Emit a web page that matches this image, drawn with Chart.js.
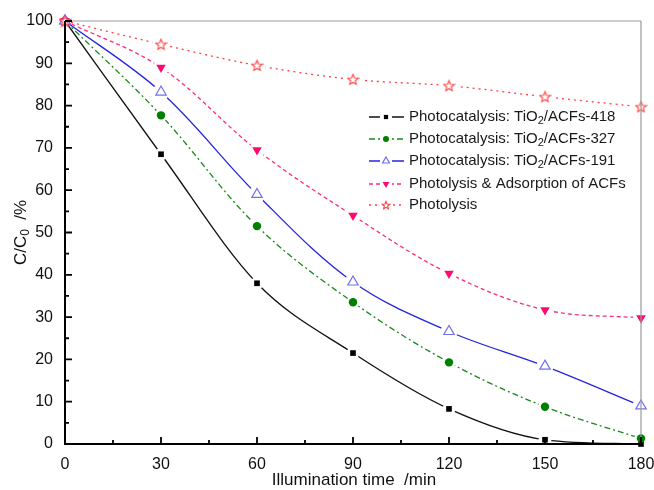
<!DOCTYPE html>
<html>
<head>
<meta charset="utf-8">
<script src="https://cdn.jsdelivr.net/npm/chart.js@4.4.0/dist/chart.umd.min.js"></script>
<style>
  html, body { margin: 0; padding: 0; background: #fff; }
  #wrap { width: 654px; height: 490px; position: relative; }
</style>
</head>
<body>
<div id="wrap"><canvas id="chart"></canvas></div>
<script>
// ===== DATA =====
const times = [0, 30, 60, 90, 120, 150, 180];
const seriesLabels = [
  "Photocatalysis: TiO₂/ACFs-418",
  "Photocatalysis: TiO₂/ACFs-327",
  "Photocatalysis: TiO₂/ACFs-191",
  "Photolysis & Adsorption of ACFs",
  "Photolysis"
];
const acf418   = [100, 68.5, 38.0, 21.5, 8.3, 1.0, 0.0];
const acf327   = [100, 77.7, 51.5, 33.5, 19.3, 8.8, 1.3];
const acf191   = [100, 83.2, 59.0, 38.3, 26.6, 18.4, 9.0];
const adsorb   = [100, 89.0, 69.5, 54.0, 40.3, 31.7, 29.8];
const photo    = [100, 94.5, 89.5, 86.2, 84.7, 82.1, 79.7];
const xTicks = [0, 30, 60, 90, 120, 150, 180];
const yTicks = [0, 10, 20, 30, 40, 50, 60, 70, 80, 90, 100];

const FONT = "'Liberation Sans', Arial, sans-serif";

// hollow star marker (Chart.js "star" is an asterisk)
function makeStar(size, color) {
  const c = document.createElement("canvas");
  c.width = size; c.height = size;
  const g = c.getContext("2d");
  const cx = size / 2, cy = size / 2 + 0.5, R = size / 2 - 1, r = R * 0.45;
  g.beginPath();
  for (let i = 0; i < 10; i++) {
    const a = -Math.PI / 2 + i * Math.PI / 5;
    const rr = i % 2 === 0 ? R : r;
    g.lineTo(cx + rr * Math.cos(a), cy + rr * Math.sin(a));
  }
  g.closePath();
  g.fillStyle = "#fff";
  g.fill();
  g.strokeStyle = color;
  g.lineWidth = 1.1;
  g.stroke();
  return c;
}
const starBig = makeStar(13, "#ff4040");
const starSmall = makeStar(10, "#ff4040");

function pts(arr) { return arr.map((v, i) => ({ x: times[i], y: v })); }

const datasets = [
  {
    label: seriesLabels[0], data: pts(acf418), order: 4,
    borderColor: "#111", backgroundColor: "#000", borderWidth: 1.3,
    pointStyle: "rect", pointRadius: 4, pointBorderWidth: 0, pointBackgroundColor: "#000",
    borderDash: [], legendRadius: 3, cubicInterpolationMode: "monotone"
  },
  {
    label: seriesLabels[1], data: pts(acf327), order: 3,
    borderColor: "#1a8a1a", backgroundColor: "#008000", borderWidth: 1.3,
    pointStyle: "circle", pointRadius: 4.2, pointBorderWidth: 0, pointBackgroundColor: "#008000",
    borderDash: [6, 3, 2, 3], legendRadius: 3
  },
  {
    label: seriesLabels[2], data: pts(acf191), order: 2,
    borderColor: "#2424e0", backgroundColor: "#fff", borderWidth: 1.3,
    pointStyle: "triangle", pointRadius: 6, pointBorderWidth: 1.2,
    pointBorderColor: "#7070f0", pointBackgroundColor: "#fff",
    borderDash: [], legendRadius: 4
  },
  {
    label: seriesLabels[3], data: pts(adsorb), order: 1,
    borderColor: "#ff2a80", backgroundColor: "#ff0a70", borderWidth: 1.3,
    pointStyle: "triangle", pointRotation: 180, pointRadius: 5.5, pointBorderWidth: 0,
    pointBackgroundColor: "#ff0a70",
    borderDash: [4, 3], legendRadius: 4
  },
  {
    label: seriesLabels[4], data: pts(photo), order: 0,
    borderColor: "#ff4040", backgroundColor: "#fff", borderWidth: 1.3,
    pointStyle: starBig, pointRadius: 6.5,
    borderDash: [2, 4], legendStar: starSmall
  }
];
datasets.forEach(d => {
  d.tension = 0.35;
  d.fill = false;
  d.clip = 8;
});

// draw text where "₂"/"₀" become a small lowered digit
function drawSubText(ctx, text, x, y, size, align) {
  const parts = text.split(/([₀₂])/);
  const big = size + "px " + FONT, small = Math.round(size * 0.72) + "px " + FONT;
  const widthOf = p => {
    ctx.font = /[₀₂]/.test(p) ? small : big;
    return ctx.measureText(/[₀₂]/.test(p) ? (p === "₀" ? "0" : "2") : p).width;
  };
  let total = 0;
  parts.forEach(p => { total += widthOf(p); });
  let cx = align === "center" ? x - total / 2 : x;
  ctx.textAlign = "left";
  parts.forEach(p => {
    const sub = /[₀₂]/.test(p);
    const t = sub ? (p === "₀" ? "0" : "2") : p;
    ctx.font = sub ? small : big;
    ctx.fillText(t, cx, sub ? y + size * 0.28 : y);
    cx += ctx.measureText(t).width;
  });
}

// white gaps around markers, as the original plotting program does
const gapPlugin = {
  id: "gaps",
  afterDatasetsDraw(chart) {
    const ctx = chart.ctx;
    const metas = chart.getSortedVisibleDatasetMetas().slice().reverse();
    ctx.save();
    ctx.fillStyle = "#fff";
    metas.forEach(meta => {
      meta.data.forEach((pt, i) => {
        if (i === 0) return;
        ctx.beginPath();
        ctx.arc(pt.x, pt.y, pt.options.radius + 2.5, 0, Math.PI * 2);
        ctx.fill();
      });
    });
    metas.forEach(meta => {
      meta.data.forEach(pt => pt.draw(ctx, chart.chartArea));
    });
    ctx.restore();
  }
};

// ===== AXES FRAME, INWARD TICKS, LEGEND, TITLES =====
const framePlugin = {
  id: "frame",
  afterDraw(chart) {
    const { ctx, chartArea: a, scales: { x, y } } = chart;
    ctx.save();
    ctx.setLineDash([]);
    ctx.strokeStyle = "#9a9a9a";
    ctx.lineWidth = 1.2;
    ctx.beginPath();
    ctx.moveTo(a.left, a.top); ctx.lineTo(a.right, a.top);
    ctx.moveTo(a.right, a.top); ctx.lineTo(a.right, a.bottom);
    ctx.stroke();
    ctx.strokeStyle = "#000";
    ctx.lineWidth = 2;
    ctx.beginPath();
    ctx.moveTo(a.left, a.top); ctx.lineTo(a.left, a.bottom + 1);
    ctx.moveTo(a.left - 1, a.bottom); ctx.lineTo(a.right, a.bottom);
    ctx.stroke();
    ctx.lineWidth = 1.8;
    ctx.beginPath();
    for (let v = 0; v <= 100; v += 5) {
      const py = y.getPixelForValue(v);
      const len = v % 10 === 0 ? 7 : 4;
      ctx.moveTo(a.left, py); ctx.lineTo(a.left + len, py);
    }
    for (let v = 0; v <= 180; v += 15) {
      const px = x.getPixelForValue(v);
      const len = v % 30 === 0 ? 7 : 4;
      ctx.moveTo(px, a.bottom); ctx.lineTo(px, a.bottom - len);
    }
    ctx.stroke();

    // axis titles
    ctx.fillStyle = "#111";
    ctx.textBaseline = "middle";
    ctx.font = "17px " + FONT;
    ctx.textAlign = "center";
    ctx.fillText("Illumination time  /min", (a.left + a.right) / 2 + 1, 480);
    ctx.save();
    ctx.translate(21, (a.top + a.bottom) / 2);
    ctx.rotate(-Math.PI / 2);
    drawSubText(ctx, "C/C₀  /%", 0, 0, 17, "center");
    ctx.restore();

    // legend
    const rows = [117, 139, 161, 184, 205];
    ctx.textBaseline = "middle";
    chart.data.datasets.forEach((d, i) => {
      const ry = rows[i];
      ctx.strokeStyle = d.borderColor;
      ctx.lineWidth = d.borderWidth;
      ctx.setLineDash(d.borderDash);
      ctx.beginPath();
      ctx.moveTo(369, ry); ctx.lineTo(404, ry);
      ctx.stroke();
      ctx.setLineDash([]);
      ctx.fillStyle = "#fff";
      ctx.fillRect(380, ry - 6, 12, 12);
      if (d.legendStar) {
        ctx.drawImage(d.legendStar, 386 - 5, ry - 5);
      } else {
        ctx.fillStyle = d.pointBackgroundColor;
        ctx.strokeStyle = d.pointBorderColor || d.pointBackgroundColor;
        ctx.lineWidth = d.pointBorderWidth || 0;
        Chart.helpers.drawPoint(ctx, {
          pointStyle: d.pointStyle,
          radius: d.legendRadius,
          rotation: d.pointRotation || 0,
          borderWidth: d.pointBorderWidth || 0
        }, 386, ry);
      }
      ctx.fillStyle = "#1a1a1a";
      drawSubText(ctx, d.label, 409, ry, 15, "left");
    });
    ctx.restore();
  }
};

new Chart(document.getElementById("chart"), {
  type: "line",
  data: { datasets },
  options: {
    responsive: true,
    maintainAspectRatio: false,
    animation: false,
    layout: { padding: { top: 21, right: 13, left: 0, bottom: 0 } },
    plugins: { legend: { display: false }, tooltip: { enabled: false } },
    scales: {
      x: {
        type: "linear",
        min: 0, max: 180,
        afterBuildTicks: s => { s.ticks = xTicks.map(v => ({ value: v })); },
        afterFit: s => { s.height = 46; s.paddingLeft = 0; s.paddingRight = 0; },
        grid: { display: false, drawTicks: false },
        border: { display: false },
        ticks: { color: "#111", font: { size: 16, family: FONT }, padding: 11, maxRotation: 0 }
      },
      y: {
        type: "linear",
        min: 0, max: 100,
        afterBuildTicks: s => { s.ticks = yTicks.map(v => ({ value: v })); },
        afterFit: s => { s.width = 65; s.paddingTop = 0; s.paddingBottom = 0; },
        grid: { display: false, drawTicks: false },
        border: { display: false },
        ticks: { color: "#111", font: { size: 16, family: FONT }, padding: 12 }
      }
    }
  },
  plugins: [gapPlugin, framePlugin]
});
</script>
</body>
</html>
